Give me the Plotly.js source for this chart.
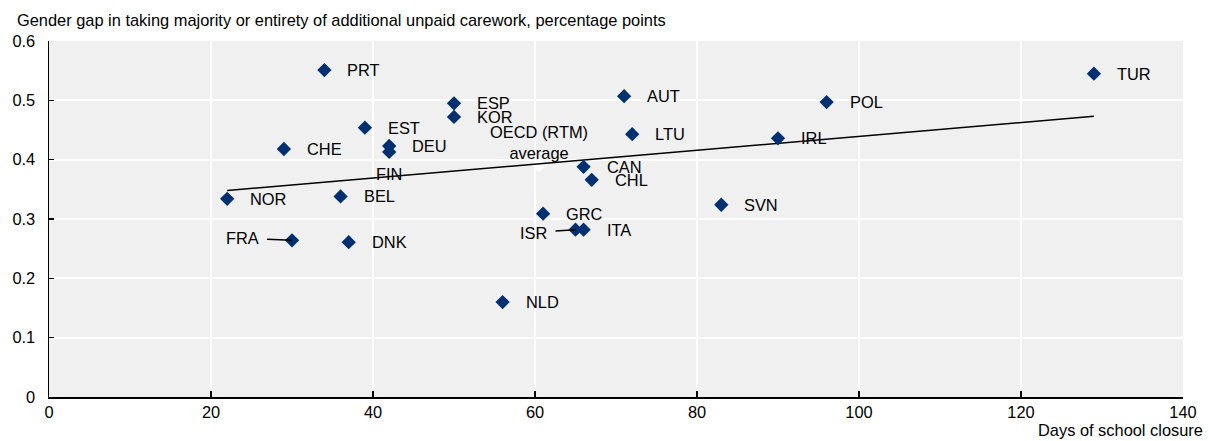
<!DOCTYPE html>
<html>
<head>
<meta charset="utf-8">
<script src="https://cdn.plot.ly/plotly-3.0.1.min.js"></script>
<style>html,body{margin:0;padding:0;background:#fff;}#chart{width:1209px;height:441px;}</style>
</head>
<body>
<div id="chart"></div>
<script>
// Data
const countries = ["PRT","ESP","KOR","EST","AUT","POL","TUR","IRL","LTU","CHE","DEU","FIN","CAN","CHL","NOR","BEL","SVN","GRC","ISR","ITA","FRA","DNK","NLD"];
const closureDays = [34,50,50,39,71,96,129,90,72,29,42,42,66,67,22,36,83,61,65,66,30,37,56];
const genderGap = [0.551,0.495,0.472,0.454,0.507,0.497,0.545,0.436,0.443,0.418,0.423,0.413,0.388,0.366,0.334,0.338,0.324,0.309,0.282,0.282,0.264,0.261,0.160];

const oecdName = "OECD (RTM)<br>average";
const oecdDays = [60.5];
const oecdGap = [0.391];

const trendDays = [22,129];
const trendGap = [0.348,0.473];

const xTicks = [0,20,40,60,80,100,120,140];
const yTicks = [0,0.1,0.2,0.3,0.4,0.5,0.6];
const yTickText = ["0","0.1","0.2","0.3","0.4","0.5","0.6"];

const FONT = "'Liberation Sans', Arial, sans-serif";
const FS = 16.4;
const NAVY = "#00306f";

// label placement (pixel offsets), style only
const special = {
  "FIN": {xanchor:"center", xshift:0, yshift:-22},
  "FRA": {arrow:true, ax:-50, ay:-2},
  "ISR": {arrow:true, ax:-42, ay:3}
};

const annotations = countries.map((c,i) => {
  const s = special[c] || {};
  if (s.arrow) {
    return {x: closureDays[i], y: genderGap[i], xref:"x", yref:"y", text:c,
      showarrow:true, ax:s.ax, ay:s.ay, arrowhead:0, arrowwidth:1.5, arrowcolor:"#000",
      standoff:0, startstandoff:7, font:{family:FONT,size:FS,color:"#000"}};
  }
  return {x: closureDays[i], y: genderGap[i], xref:"x", yref:"y", text:c, showarrow:false,
    xanchor: s.xanchor || "left", yanchor:"middle", xshift: (s.xshift!==undefined? s.xshift:21), yshift: s.yshift||0,
    font:{family:FONT,size:FS,color:"#000"}};
});

annotations.push({x: oecdDays[0], y: oecdGap[0], xref:"x", yref:"y", text: oecdName, showarrow:false,
  xanchor:"center", yanchor:"middle", yshift:23, font:{family:FONT,size:FS,color:"#000"}});

annotations.push({x:0, y:1, xref:"paper", yref:"paper", xanchor:"left", yanchor:"bottom",
  xshift:-34, yshift:10, showarrow:false,
  text:"Gender gap in taking majority or entirety of additional unpaid carework, percentage points",
  font:{family:FONT,size:FS,color:"#000"}});

annotations.push({x:1, y:0, xref:"paper", yref:"paper", xanchor:"right", yanchor:"top",
  xshift:22, yshift:-22, showarrow:false, text:"Days of school closure",
  font:{family:FONT,size:FS,color:"#000"}});

const traces = [
  {type:"scatter", mode:"markers", x:oecdDays, y:oecdGap, hoverinfo:"skip",
   marker:{symbol:"diamond", size:11, color:"#ffffff", line:{width:0}}},
  {type:"scatter", mode:"lines", x:trendDays, y:trendGap, hoverinfo:"skip",
   line:{color:"#000", width:1.5}},
  {type:"scatter", mode:"markers", x:closureDays, y:genderGap, text:countries,
   marker:{symbol:"diamond", size:11, color:NAVY, line:{width:0}}}
];

const layout = {
  width:1209, height:441,
  margin:{l:49, r:26, t:41, b:44},
  paper_bgcolor:"#ffffff", plot_bgcolor:"#f0f0f0",
  showlegend:false,
  font:{family:FONT, size:FS, color:"#000"},
  xaxis:{range:[0,140], tickvals:xTicks, ticks:"inside", ticklen:6, tickwidth:1.5, tickcolor:"#000",
    showline:true, linecolor:"#000", linewidth:1.5, showgrid:true, gridcolor:"#ffffff", gridwidth:2,
    zeroline:false, tickfont:{family:FONT,size:FS,color:"#000"}, fixedrange:true},
  yaxis:{range:[0,0.6], tickvals:yTicks, ticktext:yTickText, ticks:"inside", ticklen:5, tickwidth:1.5, tickcolor:"#000",
    showline:true, linecolor:"#000", linewidth:1.5, showgrid:true, gridcolor:"#ffffff", gridwidth:2,
    zeroline:false, tickfont:{family:FONT,size:FS,color:"#000"}, ticklabelstandoff:9, fixedrange:true},
  annotations: annotations
};

Plotly.newPlot("chart", traces, layout, {displayModeBar:false, staticPlot:true});
</script>
</body>
</html>
